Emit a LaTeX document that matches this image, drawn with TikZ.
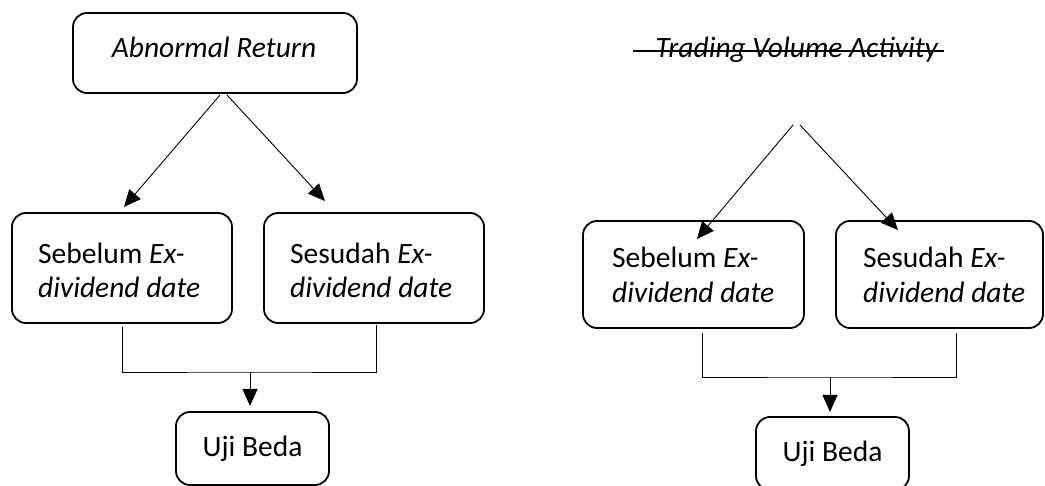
\documentclass[tikz,border=0pt]{standalone}
\usepackage{fontspec}
\setmainfont{Carlito}
\usetikzlibrary{arrows.meta}
\begin{document}
\begin{tikzpicture}[x=1pt,y=-1pt,
  box/.style={draw, line width=1.8pt, rounded corners=14pt, inner sep=0pt, font=\fontsize{29.5}{35}\selectfont},
  lbl/.style={anchor=base west, inner sep=0pt, font=\fontsize{29.5}{35}\selectfont},
  conn/.style={line width=0.9pt},
  arr/.style={conn, -{Triangle[length=17pt,width=15pt]}}]
\useasboundingbox (0,0) rectangle (1045,486);
% ---------- left diagram ----------
\node[box, minimum width=284pt, minimum height=80pt] (ar) at (215,53) {};
\node[anchor=base, inner sep=0pt, font=\fontsize{29.5}{35}\selectfont] (tar) at (214,58) {\textit{Abnormal Return}};
\node[box, minimum width=220pt, minimum height=110pt] (sb1) at (122,268) {};
\node[box, minimum width=220pt, minimum height=110pt] (ss1) at (374,268) {};
\node[box, minimum width=153pt, minimum height=73pt] (ub1) at (252.5,448.5) {Uji Beda};
\node[lbl] (tsb1a) at (38,264) {Sebelum \textit{Ex-}};
\node[lbl] (tsb1b) at (38,298) {\textit{dividend date}};
\node[lbl] (tss1a) at (290,264) {Sesudah \textit{Ex-}};
\node[lbl] (tss1b) at (290,298) {\textit{dividend date}};
\coordinate (a1l) at (220,95);
\coordinate (a1r) at (227,95);
\coordinate (e1l) at (124,207);
\coordinate (e1r) at (325,201);
\draw[arr] (a1l) -- (e1l);
\draw[arr] (a1r) -- (e1r);
\coordinate (v1l) at (122,327);
\coordinate (v1r) at (376,325);
\coordinate (m1) at (250,372);
\coordinate (t1) at (250,406);
\draw[conn] (v1l) |- (m1) -| (v1r);
\draw[arr] (m1) -- (t1);
% ---------- right diagram ----------
\node[anchor=base, inner sep=0pt, font=\fontsize{29.5}{35}\selectfont] (tva) at (797,58) {\textit{Trading Volume Activity}};
\coordinate (s0) at (633,51);
\coordinate (s1) at (944,51);
\draw[line width=1.2pt] (s0) -- (s1);
\node[box, minimum width=221pt, minimum height=107pt] (sb2) at (693.5,274.5) {};
\node[box, minimum width=207pt, minimum height=107pt] (ss2) at (939.5,274.5) {};
\node[box, minimum width=153pt, minimum height=73pt] (ub2) at (832.5,453.5) {Uji Beda};
\node[lbl] (tsb2a) at (612,268) {Sebelum \textit{Ex-}};
\node[lbl] (tsb2b) at (612,303) {\textit{dividend date}};
\node[lbl] (tss2a) at (863,268) {Sesudah \textit{Ex-}};
\node[lbl] (tss2b) at (863,303) {\textit{dividend date}};
\coordinate (a2l) at (793,125);
\coordinate (a2r) at (800,125);
\coordinate (e2l) at (697,239);
\coordinate (e2r) at (898,230);
\draw[arr] (a2l) -- (e2l);
\draw[arr] (a2r) -- (e2r);
\coordinate (v2l) at (702,333);
\coordinate (v2r) at (956,333);
\coordinate (m2) at (830,377);
\coordinate (t2) at (830,412);
\draw[conn] (v2l) |- (m2) -| (v2r);
\draw[arr] (m2) -- (t2);
\end{tikzpicture}
\end{document}
